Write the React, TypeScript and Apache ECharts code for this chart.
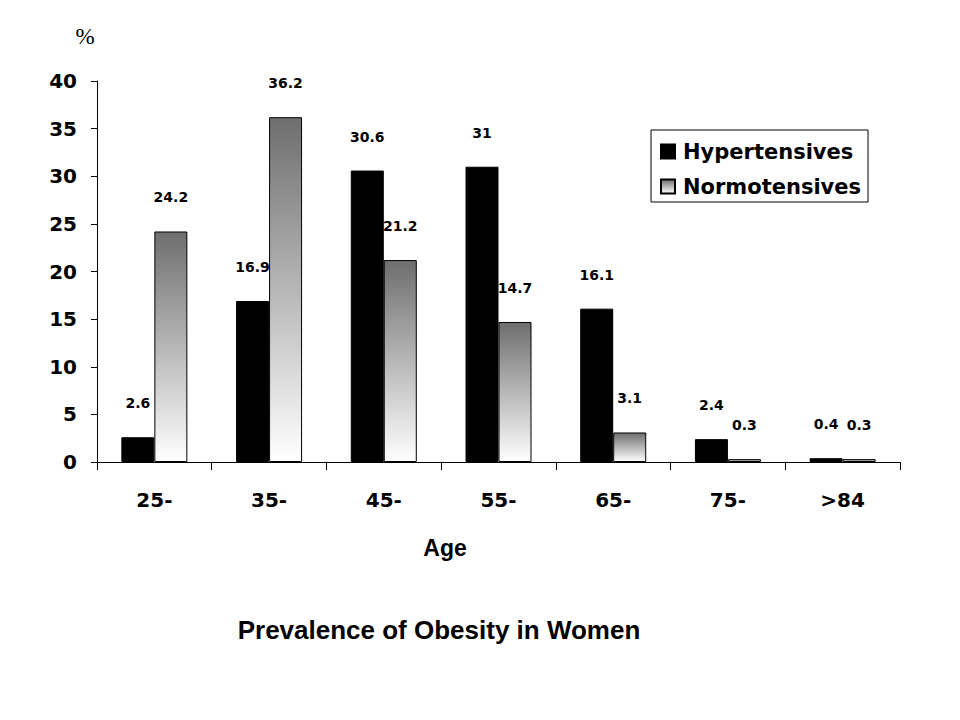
import React, { useEffect, useRef } from "react";
import * as echarts from "echarts";

const categories = ["25-", "35-", "45-", "55-", "65-", "75-", ">84"];
const hypertensives = [2.6, 16.9, 30.6, 31, 16.1, 2.4, 0.4];
const normotensives = [24.2, 36.2, 21.2, 14.7, 3.1, 0.3, 0.3];
const seriesNames = ["Hypertensives", "Normotensives"];
const yTicks = { min: 0, max: 40, interval: 5 };

const BOLD = "'DejaVu Sans', sans-serif";
const ARIAL = "'Liberation Sans', Arial, sans-serif";

export default function App() {
  const ref = useRef<HTMLDivElement>(null);
  useEffect(() => {
    if (!ref.current) return;
    const chart = echarts.init(ref.current, null, { renderer: "svg" });
    const grad = new echarts.graphic.LinearGradient(0, 0, 0, 1, [
      { offset: 0, color: "#6e6e6e" },
      { offset: 1, color: "#ffffff" },
    ]);
    const labelStyle = {
      show: true,
      position: "top",
      distance: 27,
      color: "#000",
      fontFamily: BOLD,
      fontWeight: "bold",
      fontSize: 14,
    };
    chart.setOption({
      animation: false,
      backgroundColor: "#ffffff",
      grid: { left: 97, top: 81, right: 60, bottom: 258, containLabel: false },
      legend: {
        orient: "vertical",
        left: 651,
        top: 130,
        padding: [11, 7, 5, 9],
        itemGap: 14,
        itemWidth: 14,
        itemHeight: 14,
        borderColor: "#000",
        borderWidth: 1,
        icon: "rect",
        data: seriesNames,
        textStyle: {
          fontFamily: BOLD,
          fontWeight: "bold",
          fontSize: 21,
          color: "#000",
          padding: [0, 0, 0, 3],
        },
      },
      xAxis: {
        type: "category",
        data: categories,
        axisLine: { lineStyle: { color: "#000", width: 1 } },
        axisTick: { show: true, alignWithLabel: false, length: 8, lineStyle: { color: "#000" } },
        axisLabel: {
          margin: 28,
          color: "#000",
          fontFamily: BOLD,
          fontWeight: "bold",
          fontSize: 20,
        },
      },
      yAxis: {
        type: "value",
        min: yTicks.min,
        max: yTicks.max,
        interval: yTicks.interval,
        axisLine: { show: true, lineStyle: { color: "#000", width: 1 } },
        axisTick: { show: true, length: 6, lineStyle: { color: "#000" } },
        splitLine: { show: false },
        axisLabel: {
          margin: 20,
          color: "#000",
          fontFamily: BOLD,
          fontWeight: "bold",
          fontSize: 20,
        },
      },
      series: [
        {
          name: seriesNames[0],
          type: "bar",
          data: hypertensives,
          barWidth: 33,
          barGap: "0%",
          itemStyle: { color: "#000000", borderColor: "#000", borderWidth: 1 },
          label: labelStyle,
        },
        {
          name: seriesNames[1],
          type: "bar",
          data: normotensives,
          barWidth: 33,
          barGap: "0%",
          itemStyle: { color: grad, borderColor: "#000", borderWidth: 1 },
          label: labelStyle,
        },
      ],
      graphic: [
        {
          type: "text",
          x: 85,
          y: 36,
          style: {
            text: "%",
            fontFamily: "'Liberation Serif', 'DejaVu Serif', serif",
            fontSize: 23,
            fill: "#000",
            textAlign: "center",
            textVerticalAlign: "middle",
          },
        },
        {
          type: "text",
          x: 445,
          y: 548,
          style: {
            text: "Age",
            fontFamily: ARIAL,
            fontWeight: "bold",
            fontSize: 23,
            fill: "#000",
            textAlign: "center",
            textVerticalAlign: "middle",
          },
        },
        {
          type: "text",
          x: 439,
          y: 630,
          style: {
            text: "Prevalence of Obesity in Women",
            fontFamily: ARIAL,
            fontWeight: "bold",
            fontSize: 26,
            fill: "#000",
            textAlign: "center",
            textVerticalAlign: "middle",
          },
        },
      ],
    });
    return () => chart.dispose();
  }, []);
  return (
    <div
      ref={ref}
      style={{ position: "fixed", left: 0, top: 0, width: 960, height: 720, background: "#fff" }}
    />
  );
}
